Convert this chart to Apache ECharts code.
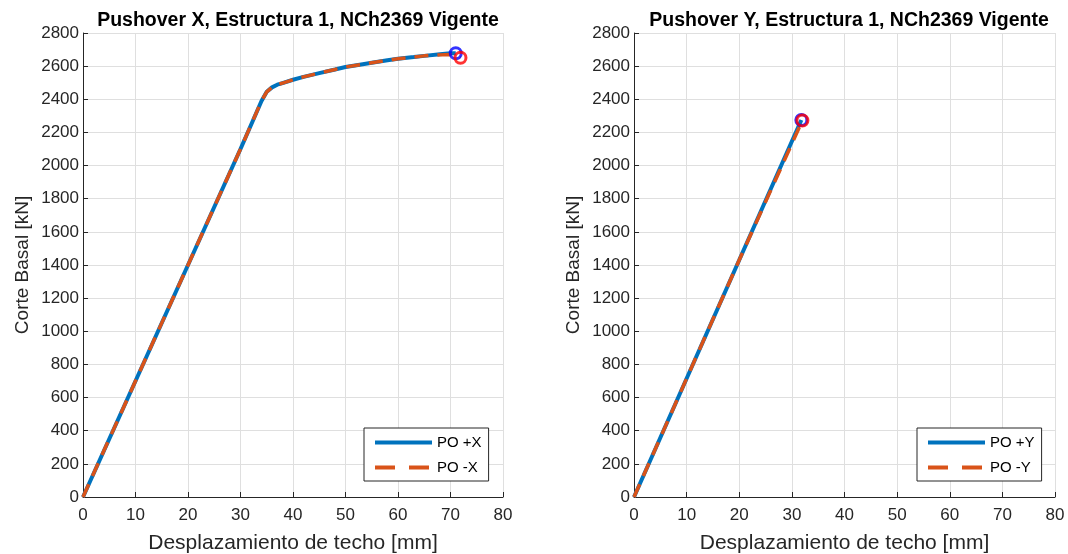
<!DOCTYPE html>
<html>
<head>
<meta charset="utf-8">
<script src="https://cdn.jsdelivr.net/npm/echarts@6/dist/echarts.min.js"></script>
<style>
  html, body { margin: 0; padding: 0; background: #fff; }
  #chart { width: 1068px; height: 554px; }
</style>
</head>
<body>
<div id="chart"></div>
<script>
// Pushover curves: roof displacement [mm] vs base shear [kN]
const despPosX = [0, 10, 20, 30, 34, 35, 36, 37, 38, 40, 42, 45, 48, 50, 53, 55, 58, 60, 63, 65, 68, 70, 71];
const cortePosX = [0, 700, 1400, 2100, 2390, 2445, 2472, 2488, 2498, 2518, 2535, 2558, 2580, 2595, 2610, 2620, 2635, 2645, 2655, 2662, 2672, 2678, 2678];
const despNegX = [0, 10, 20, 30, 34, 35, 36, 37, 38, 40, 42, 45, 48, 50, 53, 55, 58, 60, 63, 65, 68, 70, 71.9];
const corteNegX = [0, 700, 1400, 2100, 2390, 2445, 2472, 2488, 2498, 2518, 2535, 2558, 2580, 2595, 2610, 2620, 2635, 2645, 2655, 2662, 2668, 2670, 2651];

const despPosY = [0, 10, 20, 31.8];
const cortePosY = [0, 715, 1430, 2275];
const despNegY = [0, 10, 20, 32.0];
const corteNegY = [0, 715, 1430, 2272];

const xTicks = [0, 10, 20, 30, 40, 50, 60, 70, 80];
const yTicks = [0, 200, 400, 600, 800, 1000, 1200, 1400, 1600, 1800, 2000, 2200, 2400, 2600, 2800];

const titulos = ['Pushover X, Estructura 1, NCh2369 Vigente', 'Pushover Y, Estructura 1, NCh2369 Vigente'];
const nombres = [['PO +X', 'PO -X'], ['PO +Y', 'PO -Y']];

const pares = (xs, ys) => xs.map((x, i) => [x, ys[i]]);
const ultimo = (xs, ys) => [[xs[xs.length - 1], ys[ys.length - 1]]];

const FONT = '"Liberation Sans", Arial, sans-serif';
const AX = '#262626';
const GRIDC = '#dfdfdf';
const AZUL = '#0072BD';
const NARANJA = '#D95319';

const grids = [
  { left: 83, right: 565, top: 33, bottom: 57, outerBoundsMode: 'none', containLabel: false },
  { left: 634, right: 13, top: 33, bottom: 57, outerBoundsMode: 'none', containLabel: false }
];

function xAxis(i) {
  return {
    gridIndex: i, type: 'value', min: xTicks[0], max: xTicks[xTicks.length - 1], interval: 10,
    name: 'Desplazamiento de techo [mm]', nameLocation: 'middle', nameGap: 36,
    nameTextStyle: { fontFamily: FONT, fontSize: 21, color: AX },
    axisLine: { show: true, onZero: false, lineStyle: { color: AX, width: 1 } },
    axisTick: { show: true, inside: true, length: 5, lineStyle: { color: AX } },
    axisLabel: { fontFamily: FONT, fontSize: 17, color: AX, margin: 10 },
    splitLine: { show: true, lineStyle: { color: GRIDC, width: 1 } }
  };
}
function yAxis(i) {
  return {
    gridIndex: i, type: 'value', min: yTicks[0], max: yTicks[yTicks.length - 1], interval: 200,
    name: 'Corte Basal [kN]', nameLocation: 'middle', nameGap: 51,
    nameTextStyle: { fontFamily: FONT, fontSize: 19, color: AX },
    axisLine: { show: true, onZero: false, lineStyle: { color: AX, width: 1 } },
    axisTick: { show: true, inside: true, length: 5, lineStyle: { color: AX } },
    axisLabel: { fontFamily: FONT, fontSize: 17, color: AX, margin: 4, formatter: v => String(v) },
    splitLine: { show: true, lineStyle: { color: GRIDC, width: 1 } }
  };
}

function curvas(i, xp, yp, xn, yn) {
  return [
    { name: nombres[i][0], type: 'line', xAxisIndex: i, yAxisIndex: i, data: pares(xp, yp),
      showSymbol: false, symbol: 'none', lineStyle: { color: AZUL, width: 4 }, itemStyle: { color: AZUL }, z: 2 },
    { name: nombres[i][1], type: 'line', xAxisIndex: i, yAxisIndex: i, data: pares(xn, yn),
      showSymbol: false, symbol: 'none', lineStyle: { color: NARANJA, width: 3.5, type: [14, 9] }, itemStyle: { color: NARANJA }, z: 3 },
    { type: 'scatter', xAxisIndex: i, yAxisIndex: i, data: ultimo(xp, yp), symbol: 'circle', symbolSize: 11,
      itemStyle: { color: 'transparent', borderColor: '#0000FF', borderWidth: 3 }, z: 4, silent: true },
    { type: 'scatter', xAxisIndex: i, yAxisIndex: i, data: ultimo(xn, yn), symbol: 'circle', symbolSize: 11,
      itemStyle: { color: 'transparent', borderColor: '#FF0000', borderWidth: 3 }, z: 5, silent: true }
  ];
}

function leyenda(i, left) {
  return {
    data: [
      { name: nombres[i][0] },
      { name: nombres[i][1], lineStyle: { type: [20, 14], width: 4 } }
    ],
    orient: 'vertical', left: left, top: 428,
    backgroundColor: '#fff', borderColor: AX, borderWidth: 1,
    padding: [7, 7, 6, 9], itemGap: 10, itemWidth: 57, itemHeight: 14,
    itemStyle: { opacity: 0 },
    lineStyle: { width: 4 },
    textStyle: { fontFamily: FONT, fontSize: 15, color: '#000' },
    selectedMode: false
  };
}

const chart = echarts.init(document.getElementById('chart'), null, { renderer: 'canvas' });
chart.setOption({
  animation: false,
  backgroundColor: '#fff',
  title: titulos.map((t, i) => ({
    text: t, left: i === 0 ? 293 : 844, top: 6, textAlign: 'center',
    textStyle: { fontFamily: FONT, fontSize: 19.5, fontWeight: 'bold', color: '#000' }
  })),
  grid: grids,
  xAxis: [xAxis(0), xAxis(1)],
  yAxis: [yAxis(0), yAxis(1)],
  legend: [leyenda(0, 364), leyenda(1, 917)],
  series: [
    ...curvas(0, despPosX, cortePosX, despNegX, corteNegX),
    ...curvas(1, despPosY, cortePosY, despNegY, corteNegY)
  ]
});
</script>
</body>
</html>
